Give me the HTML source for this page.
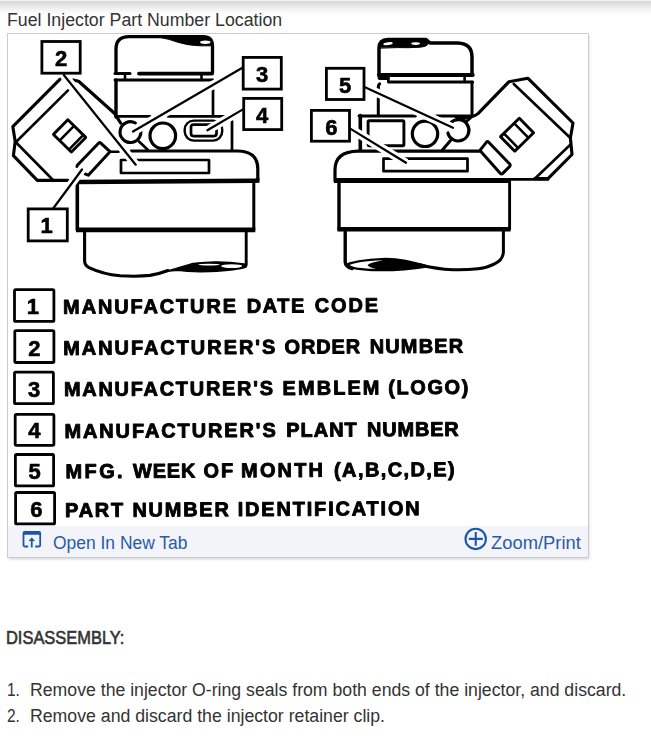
<!DOCTYPE html>
<html lang="en">
<head>
<meta charset="utf-8">
<title>Fuel Injector Part Number Location</title>
<style>
html,body{margin:0;padding:0;background:#fff;}
body{width:651px;height:736px;position:relative;overflow:hidden;font-family:"Liberation Sans",sans-serif;color:#333;}
.topbar{position:absolute;left:0;top:0;width:651px;height:15px;background:linear-gradient(to bottom,#f8f8f8 0,#f0f0f0 0.6px,#d9d9d9 1.6px,#e1e1e1 4px,#ececec 7px,#f7f7f7 11px,#fff 15px);}
.title{position:absolute;left:7px;top:10px;height:20px;line-height:20px;font-size:18px;color:#333;white-space:nowrap;transform-origin:0 50%;}
.frame{position:absolute;left:7px;top:33px;width:580px;height:523px;border:1px solid #ccc;background:#fff;box-shadow:1px 2px 3px -1px rgba(0,0,0,.2);}
.bar{position:absolute;left:0;top:492px;width:580px;height:31px;background:#f2f4f9;}
.lnk{position:absolute;color:#2a5aa8;font-size:18px;line-height:22px;white-space:nowrap;transform-origin:0 50%;}
.txt{position:absolute;left:7px;white-space:nowrap;font-size:18px;line-height:22px;color:#333;transform-origin:0 50%;}
.txt .n{display:inline-block;width:17.7px;transform:scaleX(0.86);transform-origin:0 50%;}
.txt .b{display:inline-block;transform-origin:0 50%;}
svg{position:absolute;left:0;top:0;will-change:transform;}
svg text{font-family:"Liberation Sans",sans-serif;font-weight:bold;fill:#000;}
</style>
</head>
<body>
<div class="topbar"></div>
<div class="title" id="title" style="transform:scaleX(0.9856)">Fuel Injector Part Number Location</div>
<div class="frame"><div class="bar"></div></div>
<div class="lnk" id="open" style="left:52.8px;top:531.6px;transform:scaleX(0.9686)">Open In New Tab</div>
<div class="lnk" id="zoom" style="left:490.8px;top:532px;transform:scaleX(1.02)">Zoom/Print</div>
<div class="txt" id="dis" style="top:626.6px;left:6.4px;-webkit-text-stroke:0.6px #333;transform:scaleX(0.913)">DISASSEMBLY:</div>
<div class="txt" id="l1" style="top:679.4px;left:7.4px;"><span class="n">1.</span> <span class="b" style="transform:scaleX(0.9818)">Remove the injector O-ring seals from both ends of the injector, and discard.</span></div>
<div class="txt" id="l2" style="top:705.4px;left:7.4px;"><span class="n">2.</span> <span class="b" style="transform:scaleX(0.983)">Remove and discard the injector retainer clip.</span></div>
<svg id="art" width="651" height="736" viewBox="0 0 651 736">
<g id="diagram" fill="none" stroke="#000" stroke-width="2" stroke-linecap="round" stroke-linejoin="round">
<!-- left injector : cap -->
<path d="M116 73 V49 Q116 36.6 129 36.6 H203 Q212.5 36.6 212.5 46 V73" stroke-width="3.3"/>
<path d="M161 36 H204 Q212 36.5 213 45.8 H200 Q187 45.4 177 42 Q169 39 161 37.6 Z" fill="#000" stroke-width="1"/>
<ellipse cx="205.3" cy="42.2" rx="5.2" ry="1.7" fill="#fff" stroke="none"/>
<path d="M115 73.5 H130" stroke-width="3.0"/>
<path d="M139 73.6 H212" stroke-width="3.8"/>
<path d="M125 74 V80 M201.5 74 V80" stroke-width="2.6"/>
<!-- neck -->
<path d="M115 80 H213" stroke-width="2.9"/>
<path d="M116 80 V117" stroke-width="3.4"/>
<path d="M213 90 V115" stroke-width="2.7"/>
<path d="M116 116.4 H150 M168 116.4 H226" stroke-width="2.9"/>
<!-- mid section -->
<path d="M232 121 V150" stroke-width="2.7"/>
<path d="M139.8 127.6 A10.4 10.4 0 1 1 135.4 123" stroke-width="3.1"/>
<circle cx="162.8" cy="135.8" r="12.8" stroke-width="3.2"/>
<path d="M139 141.5 L148 150" stroke-width="2.7"/>
<rect x="184.7" y="120.6" width="37.5" height="20" rx="9" stroke-width="2.4"/>
<rect x="191" y="124.6" width="25.5" height="11.5" rx="2.5" stroke-width="2.7"/>
<!-- shoulder -->
<path d="M131 151 H238 Q257.8 151.4 257.8 169 V180" stroke-width="3.2"/>
<path d="M136.5 160 H209 V173 H121 V160 H126.5" stroke-width="2.7"/>
<!-- body -->
<path d="M76 182 L259.5 180.6" stroke-width="4.5" stroke-linecap="butt"/>
<path d="M77.3 181 V230" stroke-width="3.6"/>
<path d="M253.8 181 V230" stroke-width="3.0"/>
<path d="M76 229.8 H255.3" stroke-width="4.8" stroke-linecap="butt"/>
<!-- lower -->
<path d="M84.6 231 V261 Q84.8 265.5 89 267.6 Q103 274.2 120 275.8 Q138 276.8 150 275.4 Q160 273.6 168 270.5" stroke-width="3.1"/>
<path d="M246.2 231 V265" stroke-width="2.9"/>
<path d="M166 271.4 Q182 266.6 193 263.4 Q218 260 244 264 Q247.5 265.3 246 267 Q238 270 210 271.6 Q190 272.2 178 270.4 Z" fill="#000" stroke-width="1.4"/>
<ellipse cx="231.7" cy="266.1" rx="10.6" ry="1.9" fill="#fff" stroke="none"/>
<ellipse cx="209" cy="264.6" rx="11" ry="0.9" fill="#fff" stroke="none"/>
<!-- connector -->
<path d="M60.1 79.2 L12.8 126.6 L15.2 141.5 L13.4 155.6 L37.3 180.4 H68" stroke-width="3.1"/>
<path d="M73 80 L78.6 81.2 L114.4 113.2 L120.6 123" stroke-width="3.2"/>
<path d="M68 90.4 L16 142 M16.6 143 L53 180" stroke-width="2.6"/>
<g transform="translate(69.6 135.9) rotate(44.5)" stroke-width="2.9" stroke-linejoin="miter"><rect x="-12.6" y="-10.3" width="25.2" height="20.6" rx="0.4"/><path d="M-3.9 -10 V10 M9.2 -10 V10" stroke-width="2.5"/></g>
<path d="M77 166.5 L77.3 165.3 L99 142.8 Q99.7 142 100.5 142.8 L110 151.7 L88.3 175.2 L84.9 173.8" stroke-width="3.0"/>
<path d="M110 151.8 H118.5" stroke-width="2.6"/>
<!-- right injector : cap -->
<path d="M379 76 V48 Q379 40 388 39.5 H426 L430 43 H458 Q472 43.6 472 57 V75" stroke-width="3.5"/>
<path d="M378.6 47.8 Q378.6 39.2 388 38.8 H423 Q428.5 39.4 428.4 43.4 Q427.5 46.4 420 47.2 Q408 48 398 47.6 Z" fill="#000" stroke-width="1"/>
<ellipse cx="388" cy="43.7" rx="4.8" ry="1.4" fill="#fff" stroke="none" transform="rotate(-8 388 43.7)"/>
<ellipse cx="415.6" cy="43.6" rx="4.4" ry="1.3" fill="#fff" stroke="none"/>
<path d="M379 75 H472.6" stroke-width="4.2"/>
<path d="M388.3 76 V82 M464.6 76 V82" stroke-width="2.6"/>
<path d="M379.5 78.3 H388" stroke-width="3.4"/>
<!-- neck -->
<path d="M389 82 H472.5" stroke-width="3.2"/>
<path d="M378.4 90 Q378 85 379.5 84" stroke-width="3.2"/>
<path d="M378.3 98 V115" stroke-width="3.0"/>
<path d="M472 82 V114" stroke-width="3.0"/>
<path d="M359 116 H415.5 M436.5 116 H470.5" stroke-width="2.9"/>
<!-- mid -->
<path d="M360.3 115.6 V150" stroke-width="3.6"/>
<rect x="368.1" y="120.8" width="35.8" height="25" rx="1.2" stroke-width="2.9"/>
<path d="M369 140.5 V145.5 H376 Z" fill="#000" stroke-width="1.5"/>
<circle cx="425" cy="133.8" r="12.7" stroke-width="3.2"/>
<path d="M447.9 133 A10.7 10.7 0 1 0 451.2 122.2" stroke-width="3.2"/>
<path d="M450.5 140.5 L442 150.5" stroke-width="3.0"/>
<path d="M455 116.4 H470 L464 119.6 H457.5 Z" stroke-width="1.6" fill="#000"/>
<!-- shoulder -->
<path d="M480 151.2 H358 Q335 151.6 335 170 V181" stroke-width="3.2"/>
<rect x="383.5" y="158.6" width="84" height="12.6" stroke-width="2.7"/>
<!-- body -->
<path d="M334 180.6 H510" stroke-width="5" stroke-linecap="butt"/>
<path d="M510 179.4 H548" stroke-width="2.6"/>
<path d="M339 181 V229" stroke-width="3.4"/>
<path d="M509.6 181 V229" stroke-width="2.9"/>
<path d="M337.4 229.2 H510.6" stroke-width="4.6" stroke-linecap="butt"/>
<!-- lower -->
<path d="M345.2 230 V262 Q345.5 267 352 268.5" stroke-width="3.4"/>
<path d="M503.4 230 V252 Q503 260 494.6 263.8 Q486 268 478 268.8 Q466 270 453 269.7 Q436 269 420 264.7" stroke-width="3.0"/>
<path d="M346 265 Q352 260.5 386 258.7 Q404 259 428 266.4 Q400 270.8 378 270.3 Q352 270 346 265 Z" fill="#000" stroke-width="2"/>
<path d="M349.5 265 Q356 261.5 383 260.2 Q370 262.5 367.5 265 Q369 267.5 376 268.8 Q354 268.5 349.5 265 Z" fill="#fff" stroke="none"/>
<!-- connector -->
<path d="M466.5 121.5 L471.6 116.6 Q475 116 478 113.6 L509 81.7 L527.8 78.2 L573 123 L570.4 138 L572 154.5 L548 178.6 H534.7" stroke-width="3.1"/>
<path d="M513.8 84 L570.4 138 M570 145 L535.3 178.2" stroke-width="2.6"/>
<g transform="translate(517.05 134.7) rotate(135.5)" stroke-width="2.9" stroke-linejoin="miter"><rect x="-13.2" y="-10.2" width="26.4" height="20.4" rx="0.4"/><path d="M-5.9 -10 V10 M8.5 -10 V10" stroke-width="2.5"/></g>
<path d="M480 150.4 L486.3 142.3 Q487.5 141.1 488.7 142.3 L509.7 164 Q510.7 165.3 509.5 166.6 L502.8 173.4 Q501.6 174.6 500.4 173.4 Z" stroke-width="3.0"/>
<!-- leaders -->
<path d="M63.8 75.0 L135.7 164.7 M82.0 169.5 L53.5 208.0 M242.0 68.0 L133.0 131.5 M242.5 109.6 L207.4 130.3 M365.0 87.2 L453.0 127.8 M350.6 128.9 L406.0 162.8" stroke="#fff" stroke-width="8.5" stroke-linecap="butt"/>
<path d="M63.8 75.0 L135.7 164.7 M82.0 169.5 L53.5 208.0 M242.0 68.0 L133.0 131.5 M242.5 109.6 L207.4 130.3 M365.0 87.2 L453.0 127.8 M350.6 128.9 L406.0 162.8" stroke-width="2.2"/>
<!-- callout boxes -->
<g stroke-width="2.8" fill="#fff" stroke-linejoin="miter">
<rect x="41.9" y="41.5" width="38.3" height="31.7"/>
<rect x="28.2" y="208.9" width="39.1" height="32.0"/>
<rect x="243.2" y="57.4" width="38.1" height="31.7"/>
<rect x="243.7" y="98.4" width="38.0" height="31.2"/>
<rect x="326.4" y="68.3" width="37.6" height="31.2"/>
<rect x="311.4" y="110.4" width="38.1" height="30.8"/>
</g>
<g stroke="#000" stroke-width="0.6" fill="#000" font-size="22" text-anchor="middle">
<text x="61.0" y="66.0">2</text>
<text x="46.6" y="232.8">1</text>
<text x="262.1" y="81.6">3</text>
<text x="262.1" y="123.2">4</text>
<text x="345.0" y="92.5">5</text>
<text x="331.4" y="134.9">6</text>
</g>
</g>
<g id="legend">
<g transform="rotate(-0.315 64 400)">
<g stroke="#000" stroke-width="0.9" stroke-linejoin="round" font-size="20">
<text y="313.7"><tspan x="63.6" letter-spacing="1.85">MANUFACTURE</tspan> <tspan x="247.2" letter-spacing="1.59">DATE</tspan> <tspan x="315.3" letter-spacing="1.84">CODE</tspan></text>
<text y="354.9"><tspan x="63.4" letter-spacing="1.94">MANUFACTURER&#39;S</tspan> <tspan x="284.8" letter-spacing="0.83">ORDER</tspan> <tspan x="369.9" letter-spacing="1.17">NUMBER</tspan></text>
<text y="396.1"><tspan x="64.0" letter-spacing="1.70">MANUFACTURER&#39;S</tspan> <tspan x="282.5" letter-spacing="2.08">EMBLEM</tspan> <tspan x="388.3" letter-spacing="1.58">(LOGO)</tspan></text>
<text y="438.0"><tspan x="64.2" letter-spacing="1.88">MANUFACTURER&#39;S</tspan> <tspan x="286.1" letter-spacing="0.97">PLANT</tspan> <tspan x="366.9" letter-spacing="0.79">NUMBER</tspan></text>
<text y="478.2"><tspan x="65.1" letter-spacing="2.37">MFG.</tspan> <tspan x="132.6" letter-spacing="0.77">WEEK</tspan> <tspan x="203.2" letter-spacing="1.78">OF</tspan> <tspan x="240.7" letter-spacing="2.12">MONTH</tspan> <tspan x="333.6" letter-spacing="1.40">(A,B,C,D,E)</tspan></text>
<text y="517.0"><tspan x="64.4" letter-spacing="1.74">PART</tspan> <tspan x="131.8" letter-spacing="1.73">NUMBER</tspan> <tspan x="237.0" letter-spacing="1.82">IDENTIFICATION</tspan></text>
</g>
</g>
<g fill="#fff" stroke="#000" stroke-width="2.8">
<rect x="14.5" y="289.7" width="39.4" height="31.7" rx="1.2"/>
<rect x="14.8" y="330.7" width="39.1" height="31.8" rx="1.2"/>
<rect x="14.5" y="372.2" width="38.9" height="31.5" rx="1.2"/>
<rect x="15.2" y="414.4" width="38.7" height="30.9" rx="1.2"/>
<rect x="15.4" y="454.5" width="38.2" height="31.4" rx="1.2"/>
<rect x="15.6" y="492.5" width="39.0" height="31.4" rx="1.2"/>
</g>
<g font-size="22" text-anchor="middle" stroke="#000" stroke-width="0.6" stroke-linejoin="round">
<text x="32.9" y="313.7">1</text>
<text x="34.4" y="355.6">2</text>
<text x="34.0" y="396.5">3</text>
<text x="34.3" y="438.4">4</text>
<text x="34.5" y="479.1">5</text>
<text x="36.4" y="516.7">6</text>
</g>
</g>
<g id="icons">
<g fill="#1b57a8" stroke="none">
<path d="M22.6 533 Q22.6 530.9 24.7 530.9 H39 Q41.1 530.9 41.1 533 V545.3 Q41.1 547.4 39 547.4 H35.2 V545.6 H39.3 V534.8 H24.4 V545.6 H28.2 V547.4 H24.7 Q22.6 547.4 22.6 545.3 Z"/>
<path d="M31.75 537.4 L35.1 540.9 H32.65 V547.6 H30.85 V540.9 H28.4 Z"/>
</g>
<g fill="none" stroke="#1b57a8" stroke-width="2.1">
<circle cx="475.7" cy="538.9" r="10.2"/>
<path d="M468.8 538.9 H482.8 M475.75 532 V545.8"/>
</g>
</g>
</svg>
</body>
</html>
